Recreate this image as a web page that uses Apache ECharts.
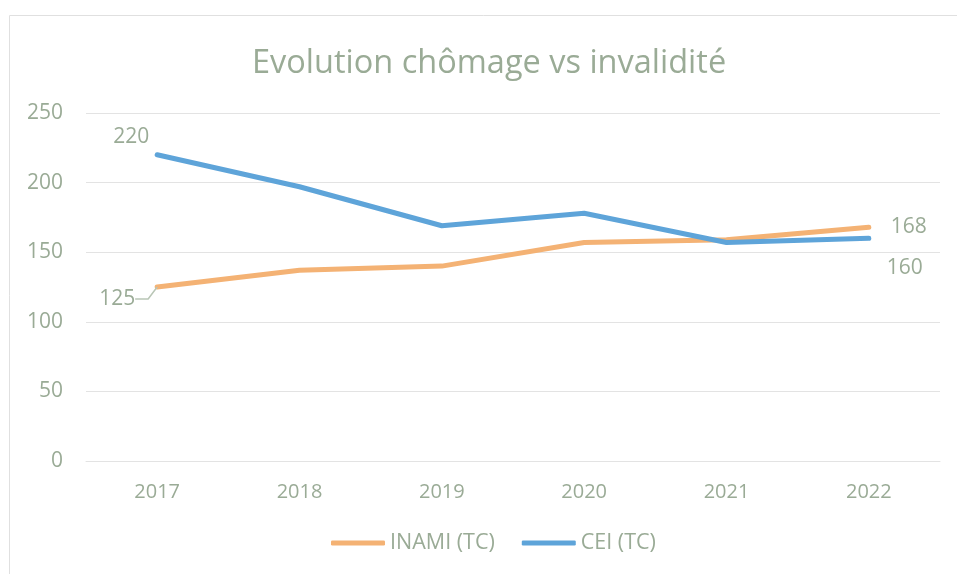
<!DOCTYPE html>
<html>
<head>
<meta charset="utf-8">
<script src="https://cdn.jsdelivr.net/npm/echarts@6/dist/echarts.min.js"></script>
<style>
  html, body { margin: 0; padding: 0; background: #fff; }
  #main { width: 957px; height: 574px; }
</style>
</head>
<body>
<div id="main"></div>
<script>
// data
var years = ['2017', '2018', '2019', '2020', '2021', '2022'];
var inami = [125, 137, 140, 157, 159, 168];
var cei = [220, 197, 169, 178, 157, 160];
var yTicks = [0, 50, 100, 150, 200, 250];

var textColor = '#9aab96';
var gridColor = '#e3e3e3';
var font = '"Open Sans", sans-serif';

// only first and last points carry a value label
function labelled(values, first, last, firstLine) {
  return values.map(function (v, i) {
    if (i === 0) return { value: v, label: first, labelLine: firstLine || { show: false } };
    if (i === values.length - 1) return { value: v, label: last };
    return v;
  });
}

var labelBase = { show: true, color: textColor, fontFamily: font, fontSize: 21 };

var option = {
  animation: false,
  title: {
    text: 'Evolution chômage vs invalidité',
    left: 247,
    top: 42,
    textStyle: { color: textColor, fontFamily: font, fontSize: 32.5, fontWeight: 'normal' }
  },
  legend: {
    bottom: 15,
    left: 326,
    itemWidth: 54,
    itemHeight: 5,
    itemGap: 27,
    icon: 'roundRect',
    textStyle: { color: textColor, fontFamily: font, fontSize: 21.5 },
    data: ['INAMI (TC)', 'CEI (TC)']
  },
  grid: { left: 86, right: 17, top: 113, bottom: 113, containLabel: false },
  xAxis: {
    type: 'category',
    data: years,
    axisLine: { lineStyle: { color: gridColor } },
    axisTick: { show: false },
    axisLabel: { color: textColor, fontFamily: font, fontSize: 20, margin: 21 }
  },
  yAxis: {
    type: 'value',
    min: yTicks[0],
    max: yTicks[yTicks.length - 1],
    interval: 50,
    axisLine: { show: false },
    axisTick: { show: false },
    splitLine: { lineStyle: { color: gridColor, width: 1 } },
    axisLabel: { color: textColor, fontFamily: font, fontSize: 21, margin: 23 }
  },
  graphic: [{
    type: 'rect',
    shape: { x: 9.5, y: 15.5, width: 1000, height: 1000 },
    style: { fill: 'none', stroke: '#e0e0e0', lineWidth: 1 },
    silent: true
  }],
  series: [
    {
      name: 'INAMI (TC)',
      type: 'line',
      data: labelled(inami,
        Object.assign({}, labelBase, { position: 'left', distance: 5, padding: [0, 9, 0, 0] }),
        Object.assign({}, labelBase, { position: 'right', distance: 22, offset: [0, 3] }),
        { show: true, length2: 13, lineStyle: { color: '#b9c6b6', width: 1.5 } }),
      // the first label sits below-left with a leader line, as in the original
      labelLayout: function (params) {
        if (params.dataIndex === 0) return { dx: -8, dy: 12 };
        return {};
      },
      symbol: 'circle',
      symbolSize: 0.01,
      lineStyle: { color: '#f4b274', width: 5, cap: 'round', join: 'round' },
      itemStyle: { color: '#f4b274' },
      label: { show: false },
      labelLine: { show: false }
    },
    {
      name: 'CEI (TC)',
      type: 'line',
      data: labelled(cei,
        Object.assign({}, labelBase, { position: 'left', distance: 8, offset: [0, -18] }),
        Object.assign({}, labelBase, { position: 'right', distance: 18, offset: [0, 30] })),
      symbol: 'circle',
      symbolSize: 0.01,
      lineStyle: { color: '#5ea4d9', width: 5, cap: 'round', join: 'round' },
      itemStyle: { color: '#5ea4d9' },
      label: { show: false },
      labelLine: { show: false }
    }
  ]
};

var chart = echarts.init(document.getElementById('main'));
chart.setOption(option);
</script>
</body>
</html>
